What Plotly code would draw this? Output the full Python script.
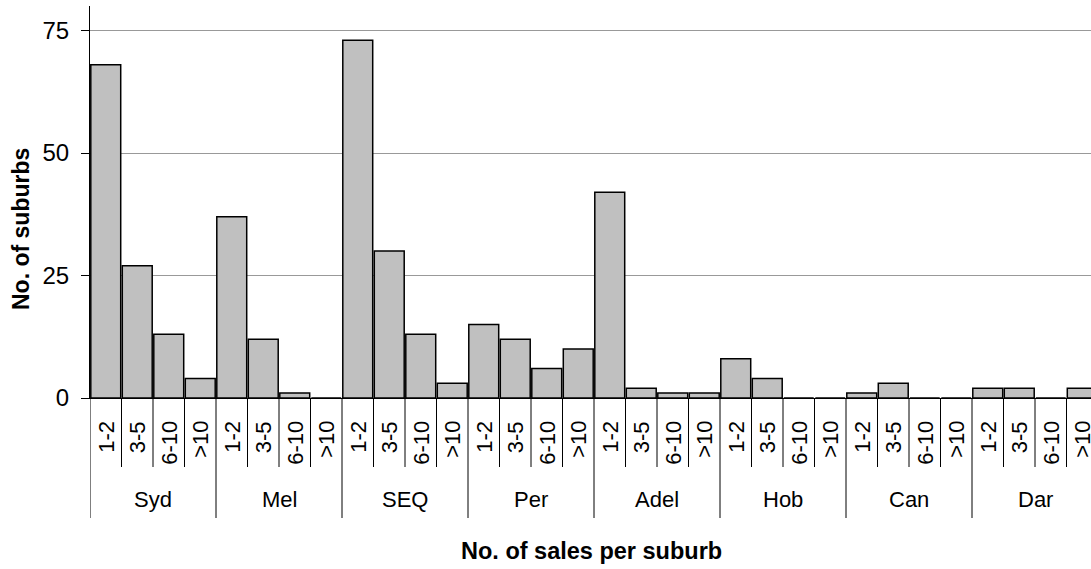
import plotly.graph_objects as go

cities = ["Syd", "Mel", "SEQ", "Per", "Adel", "Hob", "Can", "Dar"]
bins = ["1-2", "3-5", "6-10", ">10"]
syd = [68, 27, 13, 4]
mel = [37, 12, 1, 0]
seq = [73, 30, 13, 3]
per = [15, 12, 6, 10]
adel = [42, 2, 1, 1]
hob = [8, 4, 0, 0]
can = [1, 3, 0, 0]
dar = [2, 2, 0, 2]
series = [syd, mel, seq, per, adel, hob, can, dar]
y_ticks = [0, 25, 50, 75]

W, H = 1091, 569
ML, MR, MT, MB = 90, 0, 6, 171
PH = H - MT - MB
PW = W - ML - MR
CAT_W = 31.5

xs, ys, txt = [], [], []
for c, vals in zip(cities, series):
    for b, v in zip(bins, vals):
        xs.append(f"{c}|{b}")
        ys.append(v)
        txt.append(b)

FONT = "Liberation Sans, Arial, sans-serif"

fig = go.Figure(go.Bar(
    x=xs, y=ys,
    marker=dict(color="#C0C0C0", line=dict(color="black", width=1.5)),
    hoverinfo="x+y",
))

n = len(xs)
x_hi = PW / CAT_W - 0.5

def py(p):
    return (H - MB - p) / PH

shapes = []
for i in range(n + 1):
    group_edge = (i % len(bins) == 0)
    shapes.append(dict(
        type="line", xref="x", yref="paper",
        x0=i - 0.5, x1=i - 0.5, y0=0, y1=py(518 if group_edge else 467),
        line=dict(color="black", width=1),
    ))

annotations = []
# inner (bin) labels, rotated and top-aligned under the axis
for x, t in zip(xs, txt):
    annotations.append(dict(
        text=t, xref="x", yref="paper", x=x, y=py(419),
        showarrow=False, textangle=-90, xanchor="center", yanchor="top",
        font=dict(size=22, color="black", family=FONT),
    ))
# outer (city) labels
for g, c in enumerate(cities):
    annotations.append(dict(
        text=c, xref="x", yref="paper", x=g * len(bins) + (len(bins) - 1) / 2,
        y=py(499), showarrow=False, xanchor="center", yanchor="middle",
        font=dict(size=22, color="black", family=FONT),
    ))
annotations.append(dict(
    text="<b>No. of sales per suburb</b>", xref="paper", yref="paper",
    x=(591 - ML) / PW, y=py(551), showarrow=False,
    xanchor="center", yanchor="middle",
    font=dict(size=23.5, color="black", family=FONT),
))
annotations.append(dict(
    text="<b>No. of suburbs</b>", xref="paper", yref="paper",
    x=(21 - ML) / PW, y=py(229), showarrow=False, textangle=-90,
    xanchor="center", yanchor="middle",
    font=dict(size=23, color="black", family=FONT),
))

fig.update_layout(
    width=W, height=H,
    margin=dict(l=ML, r=MR, t=MT, b=MB, pad=0),
    paper_bgcolor="white", plot_bgcolor="white",
    font=dict(family=FONT, size=22, color="black"),
    bargap=0.05,
    showlegend=False,
    shapes=shapes,
    annotations=annotations,
    xaxis=dict(
        type="category",
        range=[-0.5, x_hi],
        showticklabels=False,
        ticks="", showgrid=False,
        showline=True, linecolor="black", linewidth=1,
        fixedrange=True,
    ),
    yaxis=dict(
        range=[0, 80],
        tickmode="array", tickvals=y_ticks,
        ticks="outside", ticklen=8, tickcolor="black", tickwidth=1,
        showline=True, linecolor="black", linewidth=1,
        showgrid=True, gridcolor="#999999", gridwidth=1,
        zeroline=False,
        ticklabelstandoff=7,
        tickfont=dict(size=24, family=FONT, color="black"),
        fixedrange=True,
    ),
)

fig.write_html(
    "out.html",
    config={"displayModeBar": False},
    post_script="document.body.style.margin='0';document.body.style.overflow='hidden';",
)
